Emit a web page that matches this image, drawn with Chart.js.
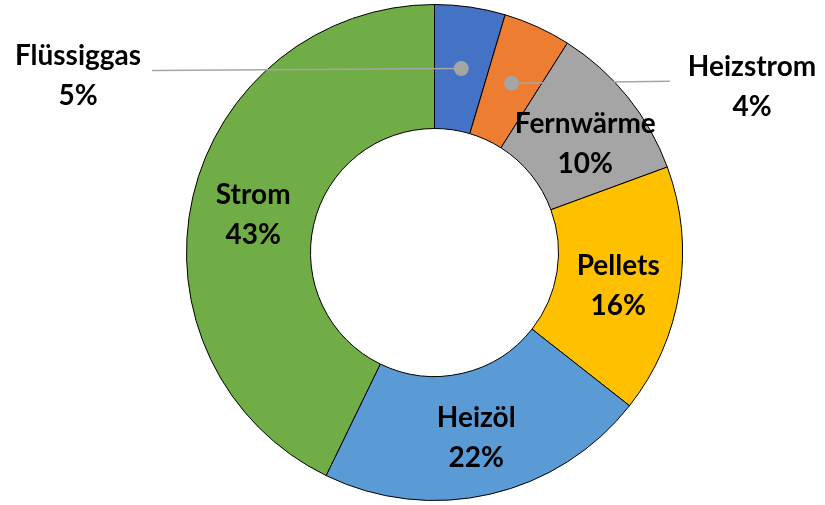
<!DOCTYPE html>
<html>
<head>
<meta charset="utf-8">
<script src="https://cdn.jsdelivr.net/npm/chart.js@4.4.1/dist/chart.umd.min.js"></script>
<style>
  html, body { margin: 0; padding: 0; background: #ffffff; }
  #wrap { width: 825px; height: 505px; }
</style>
</head>
<body>
<div id="wrap"><canvas id="c" width="825" height="505"></canvas></div>
<script>
// ---- data ----
const categories = ['Flüssiggas', 'Heizstrom', 'Fernwärme', 'Pellets', 'Heizöl', 'Strom'];
const shares = [4.6, 4.4, 10.4, 16.2, 21.6, 42.8];
const percentLabels = ['5%', '4%', '10%', '16%', '22%', '43%'];
const colors = ['#4472C4', '#ED7D31', '#A5A5A5', '#FFC000', '#5B9BD5', '#70AD47'];
const calloutCategories = ['Flüssiggas', 'Heizstrom'];

const FONT = 'bold 28px Lato, "Open Sans", sans-serif';
const LINE_GAP = 40;

const labelPlugin = {
  id: 'excelLabels',
  afterDatasetsDraw(chart) {
    const ctx = chart.ctx;
    const meta = chart.getDatasetMeta(0);
    ctx.save();
    ctx.font = FONT;
    ctx.textAlign = 'center';
    ctx.textBaseline = 'middle';
    meta.data.forEach((arc, i) => {
      const p = arc.getProps(['x', 'y', 'startAngle', 'endAngle', 'innerRadius', 'outerRadius'], true);
      const mid = (p.startAngle + p.endAngle) / 2;
      const r = (p.innerRadius + p.outerRadius) / 2;
      const px = p.x + Math.cos(mid) * r;
      const py = p.y + Math.sin(mid) * r;
      const name = categories[i];
      if (calloutCategories.includes(name)) {
        let endX, endY, lx, ly;
        if (i === 0) {
          endX = 152; endY = py + 2; lx = 78; ly = 76;
        } else {
          endX = 670; endY = py - 2; lx = 752; ly = 87;
        }
        ctx.strokeStyle = '#A6A6A6';
        ctx.lineWidth = 1.5;
        ctx.beginPath();
        ctx.moveTo(px, py);
        ctx.lineTo(endX, endY);
        ctx.stroke();
        ctx.fillStyle = '#A5A5A5';
        ctx.beginPath();
        ctx.arc(px, py, 7.5, 0, Math.PI * 2);
        ctx.fill();
        ctx.fillStyle = '#000';
        ctx.fillText(name, lx, ly - LINE_GAP / 2);
        ctx.fillText(percentLabels[i], lx, ly + LINE_GAP / 2);
      } else {
        let dx = 0, dy = 4;
        if (name === 'Fernwärme') { dx = 6; dy = 8; }
        ctx.fillStyle = '#000';
        ctx.fillText(name, px + dx, py + dy - LINE_GAP / 2);
        ctx.fillText(percentLabels[i], px + dx, py + dy + LINE_GAP / 2);
      }
    });
    ctx.restore();
  }
};

new Chart(document.getElementById('c'), {
  type: 'doughnut',
  data: {
    labels: categories,
    datasets: [{
      data: shares,
      backgroundColor: colors,
      borderColor: '#000000',
      borderWidth: 1
    }]
  },
  options: {
    responsive: false,
    animation: false,
    devicePixelRatio: 1,
    cutout: '50%',
    layout: { padding: { left: 44, right: 0, top: 4, bottom: 4 } },
    plugins: {
      legend: { display: false },
      tooltip: { enabled: false }
    }
  },
  plugins: [labelPlugin]
});
</script>
</body>
</html>
